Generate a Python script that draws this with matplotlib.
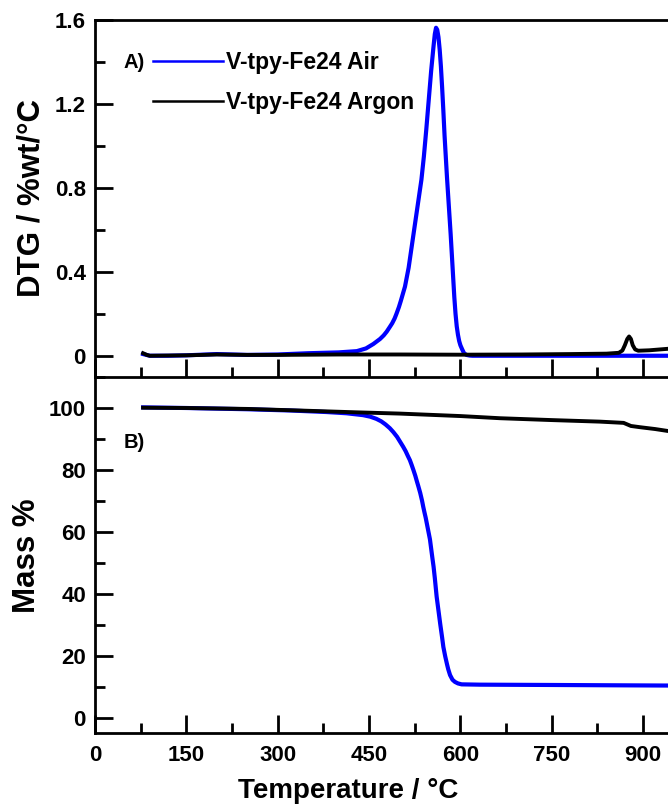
import matplotlib
matplotlib.use("Agg")
import matplotlib.pyplot as plt
from matplotlib.lines import Line2D
from matplotlib.ticker import MultipleLocator, FixedLocator

# ---- DTG (derivative weight loss), %wt/°C ----
dtg_air_T = [79, 90, 120, 150, 200, 250, 300, 350, 400, 430, 445, 457, 468, 474, 479,
             484, 488, 492, 495, 499, 502, 506, 509, 512, 515, 518, 520, 522, 524,
             526, 528, 530, 532, 534, 536, 538, 540, 542, 544, 546, 548, 550, 552,
             554, 556, 558, 560, 562, 564, 566, 568, 570, 572, 574, 576, 578, 580,
             582, 584, 586, 588, 590, 592, 594, 596, 598, 600, 603, 606, 610, 615,
             620, 700, 800, 900, 960]
dtg_air = [0.008, 0.0, 0.0, 0.002, 0.008, 0.004, 0.006, 0.012, 0.016, 0.022, 0.035,
           0.056, 0.08, 0.097, 0.115, 0.137, 0.155, 0.178, 0.2, 0.232, 0.26, 0.3,
           0.33, 0.375, 0.42, 0.48, 0.52, 0.56, 0.6, 0.64, 0.68, 0.72, 0.76, 0.8,
           0.84, 0.895, 0.95, 1.015, 1.08, 1.15, 1.22, 1.29, 1.36, 1.42, 1.48, 1.535,
           1.565, 1.555, 1.52, 1.46, 1.38, 1.28, 1.17, 1.05, 0.95, 0.85, 0.76, 0.67,
           0.58, 0.48, 0.38, 0.28, 0.2, 0.14, 0.1, 0.07, 0.05, 0.03, 0.012, 0.004,
           0.001, 0.0, 0.0, 0.0, 0.0, 0.0]

dtg_ar_T = [79, 85, 90, 150, 200, 250, 300, 400, 500, 600, 700, 780, 840, 860, 866,
            870, 874, 877, 880, 883, 887, 892, 910, 940, 960]
dtg_ar = [0.012, 0.004, 0.0, 0.002, 0.006, 0.004, 0.004, 0.006, 0.006, 0.005, 0.006,
          0.008, 0.010, 0.014, 0.025, 0.05, 0.08, 0.092, 0.08, 0.05, 0.03, 0.024,
          0.026, 0.033, 0.037]

# ---- TGA mass, % ----
mass_air_T = [79, 150, 250, 320, 380, 413, 440, 452, 462, 470, 477, 484, 490, 496,
              501, 506, 510, 514, 517, 520, 523, 526, 528, 531, 534, 537, 539, 541,
              543, 545, 547, 550, 552, 554, 556, 558, 561, 564, 567, 570, 572, 575,
              578, 580, 583, 587, 591, 596, 602, 632, 750, 850, 960]
mass_air = [100.1, 99.9, 99.5, 99.1, 98.6, 98.2, 97.6, 97.1, 96.4, 95.6, 94.6, 93.4,
            92.1, 90.6, 89.0, 87.4, 86.0, 84.3, 83.1, 81.5, 79.8, 78.0, 76.6, 74.6,
            72.5, 70.0, 68.0, 66.2, 64.5, 62.5, 60.5, 57.5, 54.5, 51.5, 48.6, 45.0,
            39.0, 34.5, 30.0, 25.8, 22.8, 19.8, 17.2, 15.6, 13.7, 12.2, 11.5, 11.0,
            10.7, 10.6, 10.5, 10.4, 10.3]

mass_ar_T = [79, 150, 250, 350, 430, 500, 600, 665, 750, 829, 868, 874, 880, 895,
             920, 940, 960]
mass_ar = [100.0, 99.9, 99.6, 99.0, 98.5, 98.1, 97.3, 96.6, 96.0, 95.5, 95.1, 94.6,
           94.1, 93.7, 93.1, 92.5, 92.0]

labels = ["V-tpy-Fe24 Air", "V-tpy-Fe24 Argon"]
colors = ["#0000ff", "#000000"]
x_ticks = [0, 150, 300, 450, 600, 750, 900]

FONT = "Liberation Sans"

plt.rcParams["font.weight"] = "bold"
plt.rcParams["font.family"] = [FONT, "DejaVu Sans"]

fig = plt.figure(figsize=(6.68, 8.07), dpi=100)
ax1 = fig.add_axes([0.1422, 0.5332, 0.9117, 0.4415])
ax2 = fig.add_axes([0.1422, 0.0917, 0.9117, 0.4415])

ax1.plot(dtg_air_T, dtg_air, color=colors[0], lw=3.0, solid_joinstyle="round")
ax1.plot(dtg_ar_T, dtg_ar, color=colors[1], lw=2.8, solid_joinstyle="round")
ax2.plot(mass_air_T, mass_air, color=colors[0], lw=3.0, solid_joinstyle="round")
ax2.plot(mass_ar_T, mass_ar, color=colors[1], lw=2.8, solid_joinstyle="round")

ax1.set_ylim(-0.1, 1.6)
ax2.set_ylim(-5, 110)
for ax in (ax1, ax2):
    ax.set_xlim(0, 1000)
    ax.xaxis.set_major_locator(FixedLocator(x_ticks))
    ax.xaxis.set_minor_locator(MultipleLocator(75))
    for s in ax.spines.values():
        s.set_linewidth(2.0)
    ax.tick_params(which="both", direction="in", width=2.0, top=False, right=False,
                   labelsize=16)
    ax.tick_params(which="major", length=13)
    ax.tick_params(which="minor", length=7)
    ax.tick_params(axis="y", pad=6.5)
    ax.tick_params(axis="x", pad=9)

ax1.yaxis.set_major_locator(FixedLocator([0, 0.4, 0.8, 1.2, 1.6]))
ax1.yaxis.set_minor_locator(FixedLocator([0.2, 0.6, 1.0, 1.4]))
ax1.set_yticklabels(["0", "0.4", "0.8", "1.2", "1.6"])
ax1.tick_params(axis="x", labelbottom=False)
ax1.spines["bottom"].set_visible(False)

ax2.yaxis.set_major_locator(MultipleLocator(20))
ax2.yaxis.set_minor_locator(MultipleLocator(10))

ax1.set_ylabel("DTG / %wt/°C", fontsize=22.5, fontweight="bold",
               ha="center", va="center", rotation_mode="default")
ax1.yaxis.set_label_coords(32 / 668, 1 - 198 / 807, transform=fig.transFigure)
ax2.set_ylabel("Mass %", fontsize=22.5, fontweight="bold",
               ha="center", va="center", rotation_mode="default")
ax2.yaxis.set_label_coords(27 / 668, 1 - 556 / 807, transform=fig.transFigure)
ax2.set_xlabel("Temperature / °C", fontsize=20, fontweight="bold",
               ha="center", va="center")
ax2.xaxis.set_label_coords(348 / 668, 1 - 791 / 807, transform=fig.transFigure)

ax1.text(0.064, 0.882, "A)", transform=ax1.transAxes, fontsize=14.5,
         fontweight="bold", ha="center", va="center")
ax2.text(0.064, 0.814, "B)", transform=ax2.transAxes, fontsize=14.5,
         fontweight="bold", ha="center", va="center")

handles = [Line2D([], [], color=c, lw=1.8) for c in colors]
leg = ax1.legend(handles, labels, loc="upper left", bbox_to_anchor=(0.095, 0.915),
                 frameon=False, borderpad=0, borderaxespad=0, handlelength=3.05,
                 handletextpad=0.15, labelspacing=0.75,
                 prop={"weight": "bold", "size": 16.5})

fig.savefig("out.png", dpi=100)
